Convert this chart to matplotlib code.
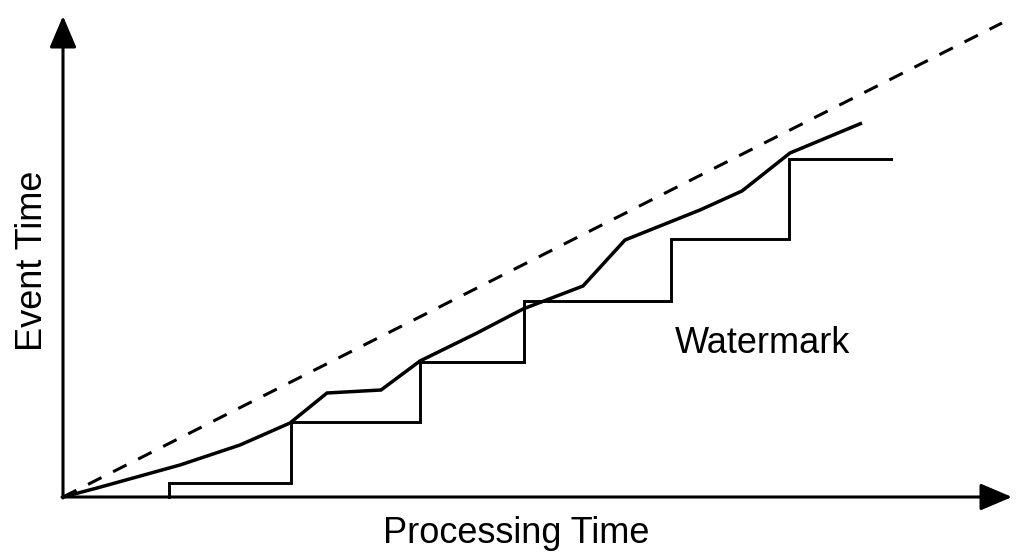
import matplotlib
matplotlib.use("Agg")
import matplotlib.pyplot as plt

# Values (processing time, event time) in chart units, origin at axes corner
ideal_pt = [0, 939]
ideal_et = [0, 474]

actual_pt = [0, 34, 117, 177, 227, 264, 318, 357, 414, 460, 520, 562, 637, 679, 727, 799]
actual_et = [0, 9, 32, 52, 74, 104, 107, 136, 164, 188, 211, 257, 287, 306, 344, 374]

wm_pt = [106, 106, 228, 357, 461, 608, 726, 828]
wm_et = [0, 14, 75, 135, 196, 258, 338, 338]

x_label = "Processing Time"
y_label = "Event Time"
wm_label = "Watermark"

plt.rcParams['font.family'] = ['Liberation Sans', 'DejaVu Sans']

W, H = 1024, 559
fig = plt.figure(figsize=(W / 100, H / 100), dpi=100)
fig.patch.set_facecolor('white')
ox, oy = 63, 497
xt, yt = 1012, 16
ax = fig.add_axes([ox / W, (H - oy) / H, (xt - ox) / W, (oy - yt) / H])
ax.set_xlim(0, xt - ox)
ax.set_ylim(0, oy - yt)
ax.axis('off')

lw = 2.3
# dashed ideal line
ax.plot(ideal_pt, ideal_et, color='black', lw=2.2, linestyle=(0, (15 / 3.05, 13 / 3.05)),
        dash_capstyle='butt', clip_on=False)
# actual event-time curve
ax.plot(actual_pt, actual_et, color='black', lw=2.5, solid_joinstyle='miter',
        solid_capstyle='butt', clip_on=False)
# watermark staircase
ax.plot(wm_pt, wm_et, color='black', lw=2.1, drawstyle='steps-post',
        solid_joinstyle='miter', clip_on=False)

# axes with arrows
arrow = dict(arrowstyle='-|>,head_length=19.5,head_width=8.3', color='black',
             lw=2.2, mutation_scale=1, shrinkA=0, shrinkB=0)
xmax = xt - ox
ymax = oy - yt
ax.annotate('', xy=(xmax, 0), xytext=(-1, 0), arrowprops=arrow, annotation_clip=False)
ax.annotate('', xy=(0, ymax), xytext=(0, -1), arrowprops=arrow, annotation_clip=False)

fs = 26
ax.text(516 - ox, oy - 543, x_label, ha='center', va='baseline', fontsize=fs, clip_on=False)
ax.text(42 - ox, oy - 260.5, y_label, ha='center', va='baseline', rotation=90,
        rotation_mode='anchor', fontsize=fs, clip_on=False)
ax.text(675 - ox, oy - 353, wm_label, ha='left', va='baseline', fontsize=fs, clip_on=False)

fig.savefig('out.png', dpi=100, facecolor='white')
